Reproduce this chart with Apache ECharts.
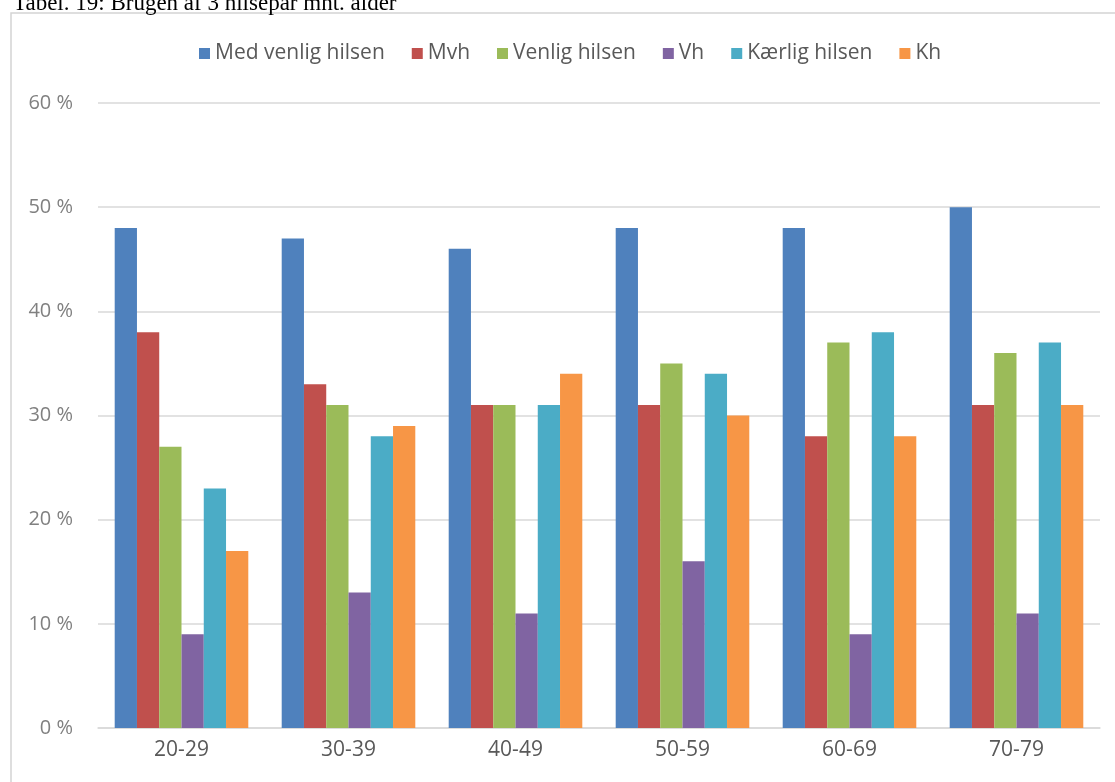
<!DOCTYPE html>
<html>
<head>
<meta charset="utf-8">
<script src="https://cdn.jsdelivr.net/npm/echarts@6/dist/echarts.min.js"></script>
<style>
  html, body { margin: 0; padding: 0; background: #fff; }
  #chart { width: 1115px; height: 782px; }
</style>
</head>
<body>
<div id="chart"></div>
<script>
// Age groups on the x axis
const ageGroups = ['20-29', '30-39', '40-49', '50-59', '60-69', '70-79'];

// Share (%) using each greeting, per age group
const medVenligHilsen = [48, 47, 46, 48, 48, 50];
const mvh             = [38, 33, 31, 31, 28, 31];
const venligHilsen    = [27, 31, 31, 35, 37, 36];
const vh              = [9, 13, 11, 16, 9, 11];
const kaerligHilsen   = [23, 28, 31, 34, 38, 37];
const kh              = [17, 29, 34, 30, 28, 31];

const seriesNames = ['Med venlig hilsen', 'Mvh', 'Venlig hilsen', 'Vh', 'Kærlig hilsen', 'Kh'];
const seriesData = [medVenligHilsen, mvh, venligHilsen, vh, kaerligHilsen, kh];
const seriesColors = ['#4f81bd', '#c0504d', '#9bbb59', '#8064a2', '#4bacc6', '#f79646'];

const titleText = 'Tabel. 19: Brugen af 3 hilsepar mht. alder';

const chart = echarts.init(document.getElementById('chart'), null, { renderer: 'canvas' });

const labelFont = '"Open Sans", "Noto Sans", sans-serif';

chart.setOption({
  animation: false,
  backgroundColor: '#ffffff',
  graphic: [
    {
      type: 'rect',
      shape: { x: 11, y: 13, width: 1200, height: 900 },
      style: { fill: 'none', stroke: '#d4d4d4', lineWidth: 1.5 },
      z: 0
    },
    {
      // page caption above the chart frame, partly cut off at the top
      type: 'text',
      x: 13,
      y: -8,
      style: {
        text: titleText,
        font: '23px "Liberation Serif", "Times New Roman", serif',
        fill: '#000000'
      },
      z: 10
    }
  ],
  legend: {
    left: 194,
    top: 38,
    itemWidth: 11,
    itemHeight: 11,
    itemGap: 27,
    icon: 'rect',
    textStyle: { color: '#595959', fontSize: 21, fontFamily: labelFont, padding: [0, 0, 0, 0] },
    data: seriesNames
  },
  grid: { left: 98, right: 15, top: 103, bottom: 54 },
  xAxis: {
    type: 'category',
    data: ageGroups,
    axisLine: { lineStyle: { color: '#d9d9d9', width: 1.5 } },
    axisTick: { show: false },
    axisLabel: { color: '#595959', fontSize: 21, fontFamily: labelFont, margin: 12 }
  },
  yAxis: {
    type: 'value',
    min: 0,
    max: 60,
    interval: 10,
    axisLine: { show: false },
    axisTick: { show: false },
    splitLine: { lineStyle: { color: '#d9d9d9', width: 1.5 } },
    axisLabel: { color: '#808080', fontSize: 20, fontFamily: labelFont, margin: 25, formatter: '{value} %' }
  },
  series: seriesNames.map((name, i) => ({
    name: name,
    type: 'bar',
    data: seriesData[i],
    barGap: '0%',
    barCategoryGap: '20%',
    itemStyle: { color: seriesColors[i] }
  }))
});
</script>
</body>
</html>
